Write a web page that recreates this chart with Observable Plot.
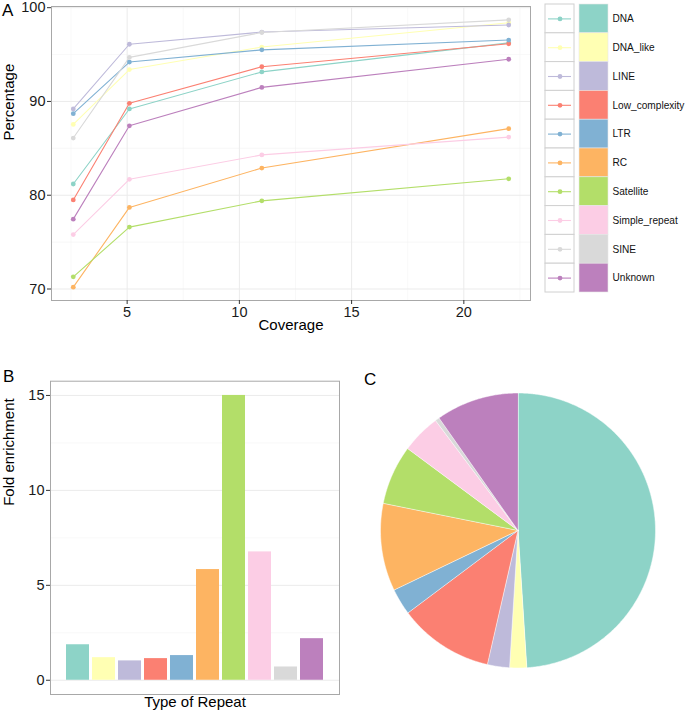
<!DOCTYPE html>
<html><head><meta charset="utf-8">
<script src="https://cdn.jsdelivr.net/npm/d3@7"></script>
<script src="https://cdn.jsdelivr.net/npm/@observablehq/plot@0.6"></script>
<style>
body{margin:0;background:#fff;}
#root{position:relative;width:685px;height:716px;overflow:hidden;background:#fff;font-family:"Liberation Sans",Arial,sans-serif;}
.panel{position:absolute;}
.letter{position:absolute;font-size:17px;line-height:17px;color:#000;}
</style></head><body><div id="root"></div>
<script>
// ---------- data ----------
const categories = ["DNA","DNA_like","LINE","Low_complexity","LTR","RC","Satellite","Simple_repeat","SINE","Unknown"];
const palette = ["#8DD3C7","#FFFFB3","#BEBADA","#FB8072","#80B1D3","#FDB462","#B3DE69","#FCCDE5","#D9D9D9","#BC80BD"];
const coverage = [2.6, 5.1, 11, 22];
const pctDNA = [81.2, 89.2, 93.15, 96.25];
const pctDNA_like = [87.55, 93.4, 95.8, 98.4];
const pctLINE = [89.2, 96.1, 97.4, 98.15];
const pctLow_complexity = [79.5, 89.8, 93.7, 96.15];
const pctLTR = [88.7, 94.2, 95.5, 96.55];
const pctRC = [70.2, 78.7, 82.9, 87.1];
const pctSatellite = [71.3, 76.6, 79.4, 81.75];
const pctSimple_repeat = [75.8, 81.7, 84.3, 86.2];
const pctSINE = [86.1, 94.7, 97.35, 98.7];
const pctUnknown = [77.45, 87.4, 91.5, 94.5];
const foldEnrichment = [1.87, 1.19, 1.02, 1.14, 1.30, 5.83, 15.0, 6.76, 0.70, 2.19];
const sharePercent = [49.0, 2.0, 2.6, 11.2, 3.1, 10.3, 7.0, 4.6, 0.5, 9.75];
const xTicks = [5, 10, 15, 20];
const yTicksA = [70, 80, 90, 100];
const yTicksB = [0, 5, 10, 15];

// ---------- tables ----------
const seriesA = [pctDNA, pctDNA_like, pctLINE, pctLow_complexity, pctLTR, pctRC, pctSatellite, pctSimple_repeat, pctSINE, pctUnknown];
const rowsA = categories.flatMap((type, k) => coverage.map((c, j) => ({type, coverage: c, pct: seriesA[k][j]})));
const rowsB = categories.map((type, k) => ({type, fold: foldEnrichment[k]}));
const legendRows = categories.map((type, i) => ({type, i}));
const expand = (lo, hi) => { const d = (hi - lo) * 0.05; return [lo - d, hi + d]; };
const mids = t => t.slice(1).map((v, i) => (v + t[i]) / 2);

const FONT = '"Liberation Sans", Arial, sans-serif';
const NARROW = '"Liberation Sans Narrow", "Arial Narrow", "Liberation Sans", Arial, sans-serif';
const gridMajor = {stroke: "#EBEBEB", strokeOpacity: 1, strokeWidth: 1};
const gridMinor = {stroke: "#F4F4F4", strokeOpacity: 1, strokeWidth: 0.6};
const colorScale = {domain: categories, range: palette};

const root = document.getElementById("root");
function place(node, left, top) {
  const d = document.createElement("div");
  d.className = "panel"; d.style.left = left + "px"; d.style.top = top + "px";
  d.appendChild(node); root.appendChild(d);
  return d;
}
function letter(t, left, top) {
  const d = document.createElement("div");
  d.className = "letter"; d.textContent = t; d.style.left = left + "px"; d.style.top = top + "px";
  root.appendChild(d);
}

// ---------- Panel A ----------
const xDomA = expand(...d3.extent(coverage));
const yDomA = expand(...d3.extent(rowsA, d => d.pct));
const xMinorA = [xTicks[0] - 2.5, ...mids(xTicks), xTicks[xTicks.length - 1] + 2.5];
const plotA = Plot.plot({
  width: 540, height: 344,
  marginLeft: 51, marginRight: 10, marginTop: 6, marginBottom: 44,
  style: {fontFamily: FONT, fontSize: "14px", color: "#1a1a1a", background: "white", overflow: "visible"},
  x: {domain: xDomA},
  y: {domain: yDomA},
  color: colorScale,
  marks: [
    Plot.gridX(xMinorA, gridMinor),
    Plot.gridY(mids(yTicksA), gridMinor),
    Plot.gridX(xTicks, gridMajor),
    Plot.gridY(yTicksA, gridMajor),
    Plot.frame({stroke: "#A8A8A8"}),
    Plot.axisX(xTicks, {tickSize: 4, tickPadding: 2, stroke: "#333", label: null, fontSize: 14.5}),
    Plot.axisY(yTicksA, {tickSize: 4, tickPadding: 2, stroke: "#333", label: null, fontSize: 14.5}),
    Plot.text(["Coverage"], {frameAnchor: "bottom", dy: 29, fontSize: 15, fill: "#000"}),
    Plot.text(["Percentage"], {frameAnchor: "left", dx: -42, dy: -13, rotate: -90, fontSize: 15, fill: "#000"}),
    Plot.line(rowsA, {x: "coverage", y: "pct", z: "type", stroke: "type", strokeWidth: 1.1}),
    Plot.dot(rowsA, {x: "coverage", y: "pct", fill: "type", r: 2.4})
  ]
});
place(plotA, 0, 0);

// ---------- Legend ----------
const legend = Plot.plot({
  width: 145, height: 300, margin: 0,
  style: {fontFamily: NARROW, fontSize: "12px", color: "#000", background: "transparent", overflow: "visible"},
  x: {domain: [0, 145], range: [0, 145], axis: null},
  y: {domain: [-0.5, categories.length - 0.5], range: [4, 292], axis: null},
  color: colorScale,
  marks: [
    Plot.rect(legendRows, {x1: 5, x2: 34, y1: d => d.i - 0.5, y2: d => d.i + 0.5, fill: "white", stroke: "#D0D0D0", strokeWidth: 1}),
    Plot.ruleY(legendRows, {y: "i", x1: 8, x2: 31, stroke: "type", strokeWidth: 1.1}),
    Plot.dot(legendRows, {x: 19.5, y: "i", fill: "type", r: 2.4}),
    Plot.rect(legendRows, {x1: 39, x2: 68, y1: d => d.i - 0.5, y2: d => d.i + 0.5, fill: "type", stroke: "#E6E6E6", strokeWidth: 0.6}),
    Plot.text(legendRows, {x: 72, y: "i", text: "type", textAnchor: "start", fontSize: 12.3, fill: "#111"})
  ]
});
place(legend, 540, 0);
// shrink the legend labels if the installed font is wider than the room at the right edge
{
  const texts = legend.querySelectorAll("text");
  let maxW = 0;
  texts.forEach(t => { maxW = Math.max(maxW, t.getComputedTextLength()); });
  const room = 72;
  if (maxW > room) {
    const fs = 12.3 * room / maxW;
    texts.forEach(t => t.setAttribute("font-size", fs.toFixed(2)));
  }
}

// ---------- Panel B ----------
const yDomB = expand(0, d3.max(foldEnrichment));
const plotB = Plot.plot({
  width: 345, height: 371,
  marginLeft: 50, marginRight: 6, marginTop: 35.7, marginBottom: 22,
  style: {fontFamily: FONT, fontSize: "14px", color: "#1a1a1a", background: "white", overflow: "visible"},
  x: {domain: categories, paddingInner: 0.1, paddingOuter: 0.6, axis: null},
  y: {domain: yDomB},
  color: colorScale,
  marks: [
    Plot.gridY(mids(yTicksB), gridMinor),
    Plot.gridY(yTicksB, gridMajor),
    Plot.frame({stroke: "#A8A8A8"}),
    Plot.axisY(yTicksB, {tickSize: 4, tickPadding: 2, stroke: "#333", label: null, fontSize: 14.5}),
    Plot.barY(rowsB, {x: "type", y: "fold", fill: "type"}),
    Plot.text(["Type of Repeat"], {frameAnchor: "bottom", dy: 12, fontSize: 15, fill: "#000"}),
    Plot.text(["Fold enrichment"], {frameAnchor: "left", dx: -41, dy: -32, rotate: -90, fontSize: 15, fill: "#000"})
  ]
});
place(plotB, 0, 345);

// ---------- Panel C (pie) ----------
const total = d3.sum(sharePercent);
let acc = 0;
const slices = categories.map((type, k) => {
  const a0 = acc / total * 2 * Math.PI;
  acc += sharePercent[k];
  const a1 = acc / total * 2 * Math.PI;
  const n = Math.max(2, Math.ceil((a1 - a0) / (Math.PI / 360)));
  const ring = [[0, 0]];
  for (let j = 0; j <= n; ++j) {
    const a = a0 + (a1 - a0) * j / n;
    ring.push([Math.sin(a), Math.cos(a)]);
  }
  ring.push([0, 0]);
  return {type: "Feature", properties: {type}, geometry: {type: "Polygon", coordinates: [ring]}};
});
const plotC = Plot.plot({
  width: 340, height: 371,
  marginLeft: 35, marginRight: 30, marginTop: 47.5, marginBottom: 48.5,
  style: {background: "white", overflow: "visible"},
  projection: {type: "reflect-y", domain: {type: "MultiPoint", coordinates: [[-1, -1], [1, 1]]}},
  color: colorScale,
  marks: [
    Plot.geo(slices, {fill: d => d.properties.type, stroke: "white", strokeWidth: 0.5})
  ]
});
place(plotC, 345, 345);

letter("A", 2, 2);
letter("B", 3, 368);
letter("C", 364, 371);
</script></body></html>
